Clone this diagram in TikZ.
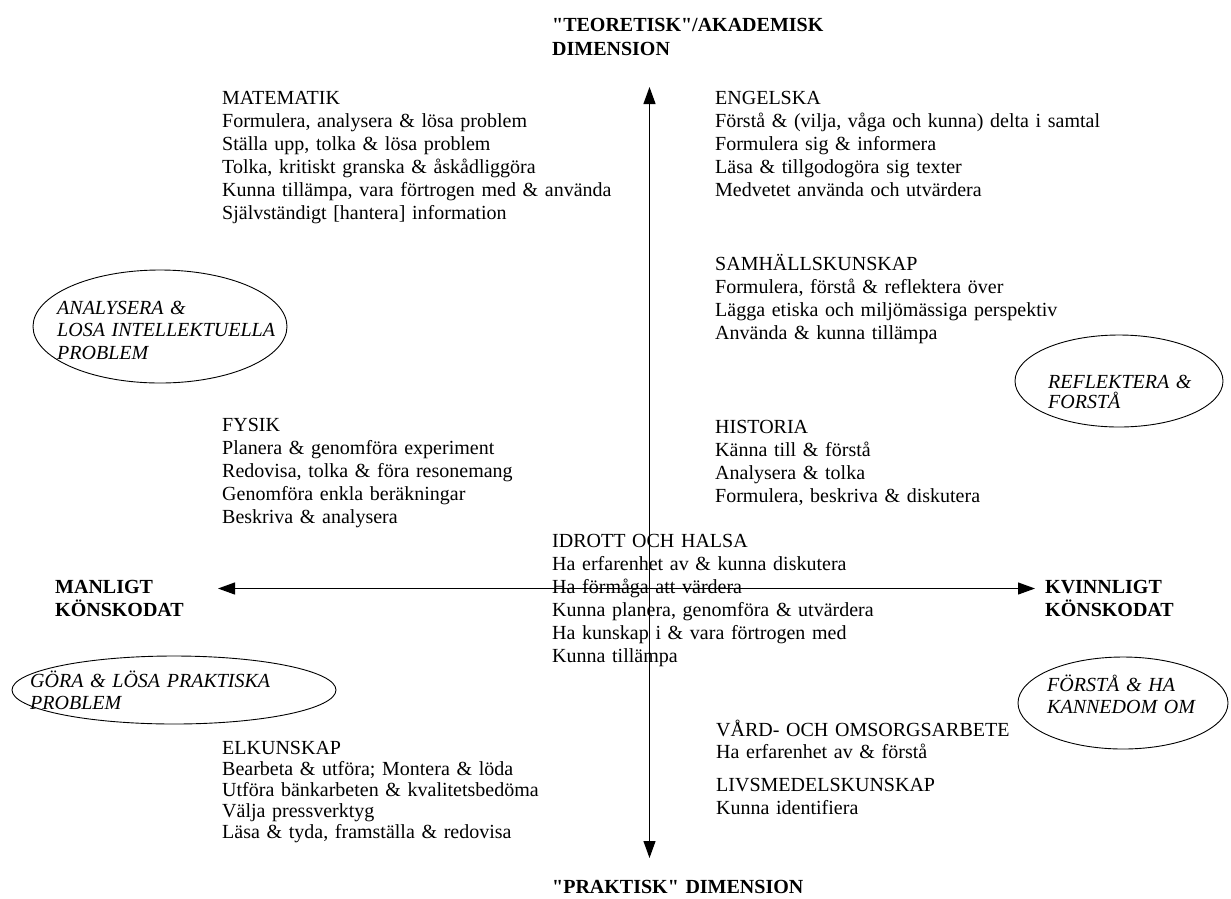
\documentclass[tikz,border=0pt]{standalone}
\usepackage{fontspec}
\setmainfont{Liberation Serif}
\newfontfamily\plainrm{Liberation Serif}
\usetikzlibrary{arrows.meta,shapes.geometric}
\tikzset{
  blk/.style={anchor=base west, inner sep=0pt, text width=440pt, align=left,
              font=\fontsize{20}{23}\selectfont},
  lab/.style={anchor=base west, inner sep=0pt, text width=330pt, align=left,
              font=\plainrm\bfseries\fontsize{20}{23.5}\selectfont},
  eltext/.style={anchor=base west, inner sep=0pt, text width=300pt, align=left,
              font=\itshape\fontsize{20}{22.5}\selectfont},
  oval/.style={draw, ellipse, line width=0.9pt, inner sep=0pt},
  axis/.style={line width=1.1pt, {Triangle[length=17pt,width=12pt]}-{Triangle[length=17pt,width=12pt]}}
}
\begin{document}
\begin{tikzpicture}[x=1pt,y=-1pt]
\fill[white] (0,0) rectangle (1231,898);
\useasboundingbox (0,0) rectangle (1231,898);

% axes
\coordinate (top) at (649.5,87);
\coordinate (bottom) at (649.5,858);
\coordinate (left) at (218,588.5);
\coordinate (right) at (1035,588.5);
\draw[axis] (bottom) -- (top);
\draw[axis] (left) -- (right);

% axis labels
\node[lab] (theo) at (552,31.5) {"TEORETISK"/AKADEMISK\\DIMENSION};
\node[lab] (prak) at (552,893.5) {"PRAKTISK" DIMENSION};
\node[lab] (man) at (55,593) {MANLIGT\\KÖNSKODAT};
\node[lab] (kvi) at (1045,593) {KVINNLIGT\\KÖNSKODAT};

% subject blocks
\node[blk] (mat) at (222,104) {MATEMATIK\\Formulera, analysera \& lösa problem\\Ställa upp, tolka \& lösa problem\\Tolka, kritiskt granska \& åskådliggöra\\Kunna tillämpa, vara förtrogen med \& använda\\Självständigt [hantera] information};
\node[blk] (eng) at (715,104) {ENGELSKA\\Förstå \& (vilja, våga och kunna) delta i samtal\\Formulera sig \& informera\\Läsa \& tillgodogöra sig texter\\Medvetet använda och utvärdera};
\node[blk] (sam) at (715,270) {SAMHÄLLSKUNSKAP\\Formulera, förstå \& reflektera över\\Lägga etiska och miljömässiga perspektiv\\Använda \& kunna tillämpa};
\node[blk] (his) at (715,433) {HISTORIA\\Känna till \& förstå\\Analysera \& tolka\\Formulera, beskriva \& diskutera};
\node[blk] (fys) at (222,431) {FYSIK\\Planera \& genomföra experiment\\Redovisa, tolka \& föra resonemang\\Genomföra enkla beräkningar\\Beskriva \& analysera};
\node[blk] (idr) at (552,547) {IDROTT OCH HALSA\\Ha erfarenhet av \& kunna diskutera\\Ha förmåga att värdera\\Kunna planera, genomföra \& utvärdera\\Ha kunskap i \& vara förtrogen med\\Kunna tillämpa};
\node[blk, font=\fontsize{20}{21}\selectfont] (elk) at (222,754) {ELKUNSKAP\\Bearbeta \& utföra; Montera \& löda\\Utföra bänkarbeten \& kvalitetsbedöma\\Välja pressverktyg\\Läsa \& tyda, framställa \& redovisa};
\node[blk, font=\fontsize{20}{22}\selectfont] (vard) at (716,736) {VÅRD- OCH OMSORGSARBETE\\Ha erfarenhet av \& förstå};
\node[blk] (livs) at (716,791) {LIVSMEDELSKUNSKAP\\Kunna identifiera};

% ellipses
\node[oval, minimum width=254pt, minimum height=113pt] (e1) at (160,326.5) {};
\node[eltext] (t1) at (57,314) {ANALYSERA \&\\LOSA INTELLEKTUELLA\\PROBLEM};
\node[oval, minimum width=208pt, minimum height=92pt] (e2) at (1119,381) {};
\node[eltext, font=\itshape\fontsize{20}{20.5}\selectfont] (t2) at (1048,388) {REFLEKTERA \&\\FORSTÅ};
\node[oval, minimum width=324pt, minimum height=68pt] (e3) at (174,690) {};
\node[eltext] (t3) at (30,687) {GÖRA \& LÖSA PRAKTISKA\\PROBLEM};
\node[oval, minimum width=210pt, minimum height=92pt] (e4) at (1123,703) {};
\node[eltext] (t4) at (1047,691) {FÖRSTÅ \& HA\\KANNEDOM OM};
\end{tikzpicture}
\end{document}
